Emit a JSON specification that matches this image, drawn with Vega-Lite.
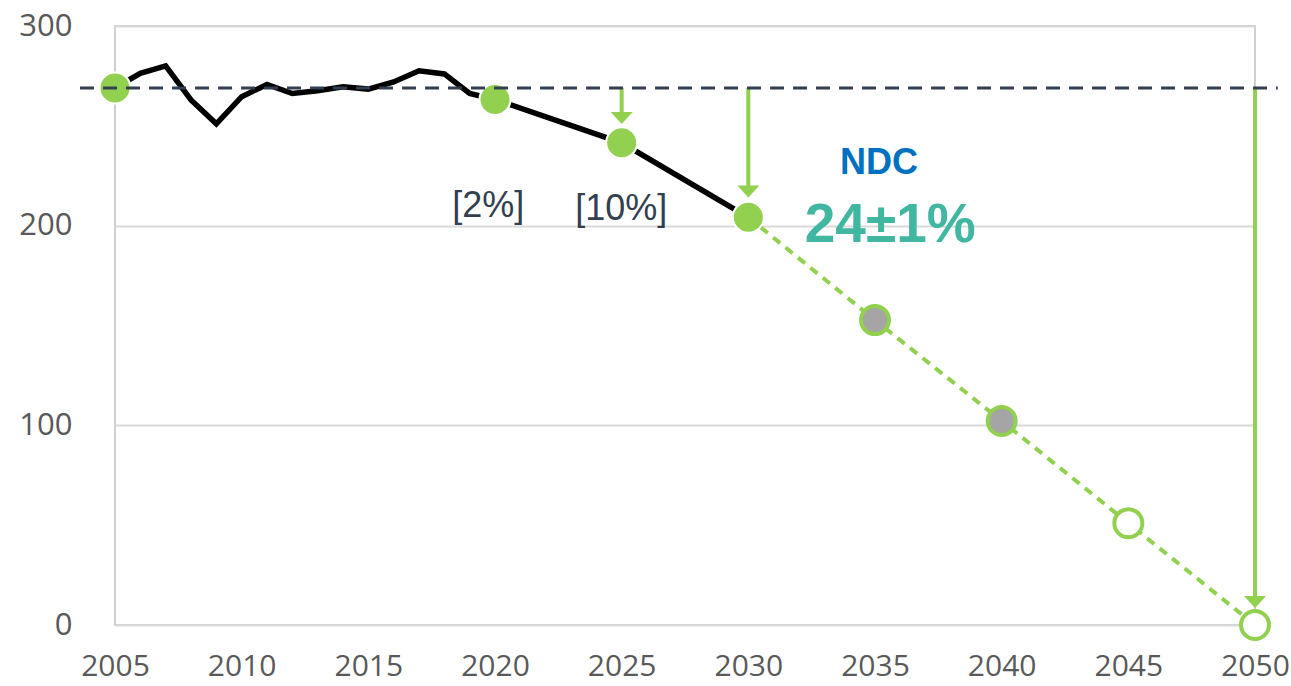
{
  "$schema": "https://vega.github.io/schema/vega-lite/v6.json",
  "width": 1140,
  "height": 599,
  "autosize": {"type": "none"},
  "padding": {"left": 115, "top": 26, "right": 36, "bottom": 61},
  "background": "white",
  "config": {
    "view": {"stroke": "#D0D0D0", "strokeWidth": 2},
    "axis": {"labelFont": "Open Sans", "labelColor": "#595959", "labelFontSize": 31, "domain": false, "ticks": false, "title": null}
  },
  "datasets": {
    "history": [
      {"year": 2005, "value": 269},
      {"year": 2006, "value": 276.3},
      {"year": 2007, "value": 280},
      {"year": 2008, "value": 263},
      {"year": 2009, "value": 251},
      {"year": 2010, "value": 264.6},
      {"year": 2011, "value": 270.7},
      {"year": 2012, "value": 266.2},
      {"year": 2013, "value": 267.6},
      {"year": 2014, "value": 269.6},
      {"year": 2015, "value": 268.4},
      {"year": 2016, "value": 272},
      {"year": 2017, "value": 277.6},
      {"year": 2018, "value": 276},
      {"year": 2019, "value": 266.2},
      {"year": 2020, "value": 263.2},
      {"year": 2025, "value": 241.5},
      {"year": 2030, "value": 204.2}
    ],
    "pathway": [
      {"year": 2030, "value": 204.2},
      {"year": 2035, "value": 152.7},
      {"year": 2040, "value": 102.2},
      {"year": 2045, "value": 51},
      {"year": 2050, "value": 0}
    ],
    "greenDots": [
      {"year": 2005, "value": 269},
      {"year": 2020, "value": 263.2},
      {"year": 2025, "value": 241.5},
      {"year": 2030, "value": 204.2}
    ],
    "grayDots": [
      {"year": 2035, "value": 152.7},
      {"year": 2040, "value": 102.2}
    ],
    "openDots": [
      {"year": 2045, "value": 51},
      {"year": 2050, "value": 0}
    ],
    "arrows": [
      {"year": 2025, "value": 269, "value2": 253.9},
      {"year": 2030, "value": 269, "value2": 217.1},
      {"year": 2050, "value": 269, "value2": 11.5}
    ],
    "heads": [
      {"year": 2025, "value": 253.9},
      {"year": 2030, "value": 217.1},
      {"year": 2050, "value": 11.5}
    ],
    "ref": [
      {"year": 2003.62, "year2": 2050.9, "value": 269}
    ],
    "pctLabels": [
      {"year": 2019.73, "value": 204.3, "label": "[2%]"},
      {"year": 2024.98, "value": 202.8, "label": "[10%]"}
    ],
    "ndc": [
      {"year": 2035.16, "value": 225.8, "label": "NDC"}
    ],
    "target": [
      {"year": 2035.6, "value": 191.9, "label": "24±1%"}
    ]
  },
  "encoding": {
    "x": {
      "field": "year",
      "type": "quantitative",
      "scale": {"domain": [2005, 2050], "nice": false, "zero": false},
      "axis": {"values": [2005, 2010, 2015, 2020, 2025, 2030, 2035, 2040, 2045, 2050], "format": "d", "grid": false, "labelFlush": false, "labelOverlap": false, "labelBaseline": "alphabetic", "labelPadding": 50, "labelFontSize": 30}
    },
    "y": {
      "field": "value",
      "type": "quantitative",
      "scale": {"domain": [0, 300], "nice": false},
      "axis": {"values": [0, 100, 200, 300], "grid": true, "gridColor": "#D9D9D9", "gridWidth": 2, "labelPadding": 43}
    }
  },
  "layer": [
    {
      "data": {"name": "history"},
      "mark": {"type": "line", "color": "#000000", "strokeWidth": 5.5, "strokeJoin": "miter"}
    },
    {
      "data": {"name": "pathway"},
      "mark": {"type": "line", "color": "#92D050", "strokeWidth": 4, "strokeDash": [9, 7]}
    },
    {
      "data": {"name": "arrows"},
      "mark": {"type": "rule", "color": "#92D050", "strokeWidth": 4},
      "encoding": {"y2": {"field": "value2"}}
    },
    {
      "data": {"name": "heads"},
      "mark": {"type": "point", "shape": "M-1,-0.55L1,-0.55L0,0.55Z", "filled": true, "fill": "#92D050", "stroke": null, "size": 484, "opacity": 1}
    },
    {
      "data": {"name": "greenDots"},
      "mark": {"type": "point", "shape": "circle", "filled": true, "fill": "#92D050", "stroke": "white", "strokeWidth": 2, "size": 961, "opacity": 1}
    },
    {
      "data": {"name": "grayDots"},
      "mark": {"type": "point", "shape": "circle", "filled": true, "fill": "#A5A5A5", "stroke": "#92D050", "strokeWidth": 4, "size": 784, "opacity": 1}
    },
    {
      "data": {"name": "openDots"},
      "mark": {"type": "point", "shape": "circle", "filled": true, "fill": "white", "stroke": "#92D050", "strokeWidth": 4, "size": 784, "opacity": 1}
    },
    {
      "data": {"name": "ref"},
      "mark": {"type": "rule", "color": "#333F50", "strokeWidth": 3, "strokeDash": [14, 9]},
      "encoding": {"x2": {"field": "year2"}}
    },
    {
      "data": {"name": "pctLabels"},
      "mark": {"type": "text", "font": "Liberation Sans", "fontSize": 36, "color": "#333F50", "align": "center", "baseline": "alphabetic"},
      "encoding": {"text": {"field": "label"}}
    },
    {
      "data": {"name": "ndc"},
      "mark": {"type": "text", "font": "Liberation Sans", "fontSize": 36, "fontWeight": "bold", "color": "#0070C0", "align": "center", "baseline": "alphabetic"},
      "encoding": {"text": {"field": "label"}}
    },
    {
      "data": {"name": "target"},
      "mark": {"type": "text", "font": "Liberation Sans", "fontSize": 55, "fontWeight": "bold", "color": "#41B6A0", "align": "center", "baseline": "alphabetic"},
      "encoding": {"text": {"field": "label"}}
    }
  ]
}
